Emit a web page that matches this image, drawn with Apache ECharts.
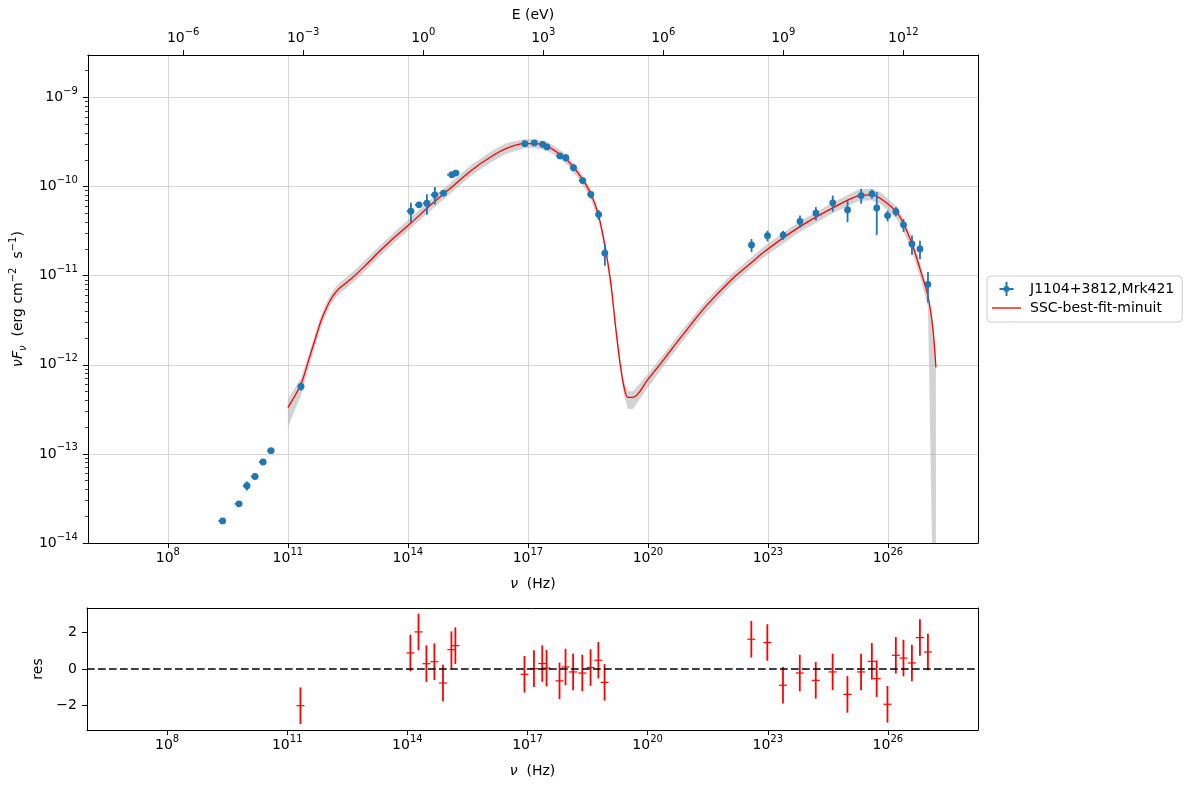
<!DOCTYPE html>
<html>
<head>
<meta charset="utf-8">
<script src="https://cdn.jsdelivr.net/npm/echarts@6/dist/echarts.min.js"></script>
<style>
  html, body { margin: 0; padding: 0; background: #fff; }
  #chart { width: 1190px; height: 790px; }
</style>
</head>
<body>
<div id="chart"></div>
<script>
// observed SED of J1104+3812 (Mrk421)
const nu = [2.34e9, 6.0e9, 9.5e9, 1.51e10, 2.4e10, 3.8e10, 2.14e11,
  1.19e14, 1.9e14, 2.99e14, 4.73e14, 7.76e14, 1.26e15, 1.58e15,
  8.41e16, 1.45e17, 2.34e17, 2.99e17, 6.31e17, 8.91e17, 1.38e18, 2.34e18, 3.76e18, 5.89e18, 8.41e18,
  3.89e22, 9.77e22, 2.40e23, 6.31e23, 1.58e24, 4.17e24, 9.77e24, 2.14e25, 3.98e25, 5.25e25,
  9.77e25, 1.58e26, 2.45e26, 3.98e26, 6.31e26, 1.0e27]
const nuErr = [0.5e9, 1.3e9, 2.0e9, 3.2e9, 5.0e9, 8.0e9, 4.0e10,
  2.5e13, 4.0e13, 6.0e13, 1.0e14, 1.6e14, 3.0e14, 3.5e14,
  1.5e16, 2.5e16, 4.0e16, 5.0e16, 1.2e17, 1.6e17, 2.5e17, 4.5e17, 7.0e17, 1.0e18, 1.5e18,
  6e21, 1.5e22, 3.6e22, 9.5e22, 2.4e23, 6.3e23, 1.5e24, 3.2e24, 6e24, 8e24,
  1.5e25, 2.4e25, 3.7e25, 6e25, 9.5e25, 1.5e26]
const nuFnu = [1.77e-14, 2.75e-14, 4.39e-14, 5.58e-14, 8.11e-14, 1.087e-13, 5.71e-13,
  5.30e-11, 6.24e-11, 6.52e-11, 8.09e-11, 8.45e-11, 1.36e-10, 1.42e-10,
  3.03e-10, 3.09e-10, 2.98e-10, 2.79e-10, 2.21e-10, 2.11e-10, 1.63e-10, 1.17e-10, 8.15e-11, 4.85e-11, 1.79e-11,
  2.21e-11, 2.81e-11, 2.86e-11, 4.08e-11, 5.03e-11, 6.58e-11, 5.48e-11, 7.94e-11, 8.3e-11, 5.77e-11,
  4.73e-11, 5.25e-11, 3.72e-11, 2.27e-11, 2.0e-11, 8.0e-12]
const nuFnuErr = [0.1e-14, 0.15e-14, 0.5e-14, 0.4e-14, 0.3e-14, 0.5e-14, 0.6e-13,
  1.3e-11, 0.5e-11, 1.7e-11, 1.8e-11, 0.6e-11, 0.1e-10, 0.1e-10,
  0.15e-10, 0.1e-10, 0.25e-10, 0.1e-10, 0.15e-10, 0.2e-10, 0.15e-10, 0.1e-10, 0.8e-11, 0.6e-11, 0.5e-11,
  0.37e-11, 0.39e-11, 0.33e-11, 0.65e-11, 0.85e-11, 1.35e-11, 1.5e-11, 1.5e-11, 1.0e-11, 2.9e-11,
  0.65e-11, 0.6e-11, 0.62e-11, 0.55e-11, 0.47e-11, 3.0e-12]
// residuals (data - model) / err, none below the model range
const resid = [null, null, null, null, null, null, -2.01,
  0.88, 2.03, 0.29, 0.40, -0.77, 1.06, 1.28,
  -0.29, 0.02, 0.30, 0.05, -0.65, 0.11, -0.16, -0.22, 0.08, 0.48, -0.73,
  1.63, 1.45, -0.89, -0.22, -0.62, -0.16, -1.39, -0.16, 0.42, -0.53,
  -1.93, 0.75, 0.60, 0.33, 1.72, 0.93]
const residErr = [null, null, null, null, null, null, 1,
  1, 1, 1, 1, 1, 1, 1,
  1, 1, 1, 1, 1, 1, 1, 1, 1, 1, 1,
  1, 1, 1, 1, 1, 1, 1, 1, 1, 1,
  1, 1, 1, 1, 1, 1]

// SSC best fit model
const modelNu = [1.0e11, 2.11e11, 3.35e11, 5.0e11, 6.68e11, 8.91e11, 1.19e12, 1.58e12, 2.11e12, 3.76e12, 8.91e12, 2.11e13, 5.01e13,
  1.19e14, 3.76e14, 1.19e15, 3.76e15, 1.19e16, 2.82e16, 7.94e16, 1.58e17, 3.16e17, 5.62e17,
  1.0e18, 2.11e18, 3.76e18, 5.96e18, 8.91e18, 1.19e19, 1.58e19, 2.0e19, 2.51e19, 3.16e19,
  4.22e19, 1.0e20, 2.51e20, 6.68e20, 2.82e21, 1.19e22, 3.76e22, 7.94e22, 5.62e23, 3.76e24, 1.78e25,
  3.76e25, 6.68e25, 1.78e26, 3.76e26, 6.68e26, 1.0e27, 1.33e27, 1.58e27]
const modelF = [3.31e-13, 6.01e-13, 1.15e-12, 2.04e-12, 3.08e-12, 4.21e-12, 5.44e-12, 6.53e-12, 7.45e-12, 9.16e-12, 1.32e-11, 1.94e-11, 2.79e-11,
  3.91e-11, 6.24e-11, 9.68e-11, 1.51e-10, 2.16e-10, 2.67e-10, 3.03e-10, 3.03e-10, 2.81e-10, 2.40e-10,
  1.95e-10, 1.29e-10, 8.30e-11, 4.57e-11, 1.89e-11, 8.04e-12, 2.51e-12, 1.06e-12, 5.71e-13, 4.30e-13,
  4.30e-13, 6.85e-13, 1.15e-12, 2.04e-12, 4.55e-12, 8.91e-12, 1.39e-11, 1.85e-11, 3.44e-11, 5.62e-11, 7.87e-11,
  8.09e-11, 7.29e-11, 4.94e-11, 2.45e-11, 1.10e-11, 5.89e-12, 2.51e-12, 9.35e-13]
// confidence band half widths in dex, above / below the model
const bandUp = [0.09, 0.07, 0.06, 0.06, 0.06, 0.06, 0.06, 0.06, 0.06, 0.06, 0.06, 0.06, 0.06,
  0.06, 0.06, 0.06, 0.06, 0.06, 0.06, 0.05, 0.05, 0.05, 0.05,
  0.05, 0.05, 0.05, 0.05, 0.05, 0.06, 0.06, 0.06, 0.06, 0.07,
  0.07, 0.06, 0.06, 0.06, 0.06, 0.06, 0.06, 0.06, 0.06, 0.06, 0.07,
  0.07, 0.07, 0.07, 0.07, 0.07, 0.07, 0.07, 0.07]
const bandDown = [0.22, 0.13, 0.09, 0.08, 0.07, 0.065, 0.06, 0.06, 0.06, 0.06, 0.06, 0.06, 0.06,
  0.06, 0.06, 0.06, 0.06, 0.06, 0.06, 0.05, 0.05, 0.05, 0.05,
  0.05, 0.06, 0.06, 0.06, 0.06, 0.07, 0.07, 0.07, 0.09, 0.13,
  0.13, 0.09, 0.07, 0.07, 0.07, 0.06, 0.06, 0.06, 0.06, 0.06, 0.06,
  0.06, 0.06, 0.07, 0.08, 0.09, 0.12, 3.0, 3.0]

// axes
const H_EV = 4.135667696e-15  // Planck constant, eV s
const NU_MIN = 1e6
const NU_MAX = 1.78e28
const F_MIN = 1e-14
const F_MAX = 3.0e-9
const RES_MIN = -3.34
const RES_MAX = 3.34
const nuTicks = [1e8, 1e11, 1e14, 1e17, 1e20, 1e23, 1e26]
const eTicks = [1e-6, 1e-3, 1, 1e3, 1e6, 1e9, 1e12]
const fTicks = [1e-14, 1e-13, 1e-12, 1e-11, 1e-10, 1e-9]
const resTicks = [-2, 0, 2]

const fMinorTicks = []
fTicks.forEach(d => {
  for (let k = 2; k <= 9; k++) {
    if (d * k < F_MAX) fMinorTicks.push(d * k)
  }
})

const BLUE = '#1f77b4'
const FONT = 'DejaVu Sans'

function powLabel(v) {
  const e = Math.round(Math.log10(v))
  return '10{sup|' + String(e).replace('-', '\u2212') + '}'
}

const labelRich = {
  sup: { fontFamily: FONT, fontSize: 10, lineHeight: 10, verticalAlign: 'top', color: '#000' }
}

const frameLine = { show: true, onZero: false, lineStyle: { color: '#000', width: 1 } }

function frameAxis(gridIndex, position, type, min, max) {
  return {
    gridIndex, position, type, min, max,
    axisLine: frameLine,
    axisTick: { show: false },
    axisLabel: { show: false },
    splitLine: { show: false }
  }
}

function nuAxis(gridIndex, grid) {
  return {
    gridIndex,
    type: 'log',
    position: 'bottom',
    min: NU_MIN,
    max: NU_MAX,
    name: '{i|\u03bd}  (Hz)',
    nameLocation: 'middle',
    nameGap: 34,
    nameTextStyle: {
      fontFamily: FONT, fontSize: 14, color: '#000',
      rich: { i: { fontFamily: FONT, fontSize: 14, fontStyle: 'italic', color: '#000' } }
    },
    axisLine: frameLine,
    axisTick: { show: true, length: 5, customValues: nuTicks, lineStyle: { color: '#000' } },
    axisLabel: {
      customValues: nuTicks,
      formatter: powLabel,
      margin: 4,
      fontFamily: FONT, fontSize: 14, lineHeight: 22, color: '#000',
      rich: labelRich
    },
    splitLine: { show: grid, lineStyle: { color: '#d6d6d6', width: 1 } }
  }
}

function renderBand(params, api) {
  if (params.dataIndex !== 0) return null
  const upper = []
  const lower = []
  modelNu.forEach((v, i) => {
    upper.push(api.coord([v, modelF[i] * Math.pow(10, bandUp[i])]))
    lower.push(api.coord([v, modelF[i] * Math.pow(10, -bandDown[i])]))
  })
  return {
    type: 'polygon',
    shape: { points: upper.concat(lower.reverse()) },
    style: { fill: 'rgba(175,175,175,0.55)' }
  }
}

function renderPoint(params, api) {
  const x = api.value(0)
  const y = api.value(1)
  const dy = api.value(2)
  const dx = api.value(3)
  const c = api.coord([x, y])
  const top = api.coord([x, y + dy])
  const bot = api.coord([x, y - dy > 0 ? y - dy : F_MIN / 100])
  const left = api.coord([x - dx, y])
  const right = api.coord([x + dx, y])
  const ls = { stroke: BLUE, lineWidth: 1.8 }
  return {
    type: 'group',
    children: [
      { type: 'line', shape: { x1: c[0], y1: top[1], x2: c[0], y2: bot[1] }, style: ls },
      { type: 'line', shape: { x1: left[0], y1: c[1], x2: right[0], y2: c[1] }, style: ls },
      { type: 'circle', shape: { cx: c[0], cy: c[1], r: 3.4 }, style: { fill: BLUE } }
    ]
  }
}

function renderResid(params, api) {
  const x = api.value(0)
  const r = api.value(1)
  const e = api.value(2)
  const c = api.coord([x, r])
  const top = api.coord([x, r + e])
  const bot = api.coord([x, r - e])
  return {
    type: 'group',
    children: [
      { type: 'line', shape: { x1: c[0], y1: top[1], x2: c[0], y2: bot[1] }, style: { stroke: '#ff0000', lineWidth: 1.8 } },
      { type: 'line', shape: { x1: c[0] - 4, y1: c[1], x2: c[0] + 4, y2: c[1] }, style: { stroke: '#ff0000', lineWidth: 1.2 } }
    ]
  }
}

const pointData = nu.map((v, i) => [v, nuFnu[i], nuFnuErr[i], nuErr[i]])
const residData = []
nu.forEach((v, i) => {
  if (resid[i] !== null) residData.push([v, resid[i], residErr[i]])
})
const bandData = modelNu.map((v, i) => [v, modelF[i]])
const modelData = modelNu.map((v, i) => [v, modelF[i]])

const option = {
  animation: false,
  backgroundColor: '#fff',
  textStyle: { fontFamily: FONT },
  grid: [
    { left: 87, top: 55, width: 891, height: 488 },
    { left: 87, top: 608, width: 891, height: 122 }
  ],
  legend: {
    left: 987,
    top: 276,
    orient: 'vertical',
    padding: [6, 8, 7, 5],
    itemWidth: 29,
    itemHeight: 14,
    itemGap: 5,
    borderColor: '#cccccc',
    borderWidth: 1,
    borderRadius: 4,
    textStyle: { fontFamily: FONT, fontSize: 14, color: '#000', padding: [0, 0, 0, 4] },
    data: [
      { name: 'J1104+3812,Mrk421', icon: 'path://M6,0 H8 V6 H14 V8 H8 V14 H6 V8 H0 V6 H6 Z M4,7 A3,3 0 1 1 10,7 A3,3 0 1 1 4,7 Z' },
      { name: 'SSC-best-fit-minuit', icon: 'path://M0,0 H30 V1.4 H0 Z' }
    ]
  },
  xAxis: [
    nuAxis(0, true),
    {
      gridIndex: 0,
      type: 'log',
      position: 'top',
      min: NU_MIN * H_EV,
      max: NU_MAX * H_EV,
      name: 'E (eV)',
      nameLocation: 'middle',
      nameGap: 32,
      nameTextStyle: { fontFamily: FONT, fontSize: 14, color: '#000' },
      axisLine: frameLine,
      axisTick: { show: true, length: 5, customValues: eTicks, lineStyle: { color: '#000' } },
      axisLabel: {
        customValues: eTicks,
        formatter: powLabel,
        margin: 6,
        fontFamily: FONT, fontSize: 14, lineHeight: 22, color: '#000',
        rich: labelRich
      },
      splitLine: { show: false }
    },
    nuAxis(1, false),
    frameAxis(1, 'top', 'log', NU_MIN, NU_MAX)
  ],
  yAxis: [
    {
      gridIndex: 0,
      type: 'log',
      position: 'left',
      min: F_MIN,
      max: F_MAX,
      name: '{i|\u03bdF}{sub|\u03bd}  (erg cm{sup|\u22122}  s{sup|\u22121})',
      nameLocation: 'middle',
      nameGap: 58,
      nameTextStyle: {
        fontFamily: FONT, fontSize: 14, lineHeight: 20, color: '#000',
        rich: {
          i: { fontFamily: FONT, fontSize: 14, fontStyle: 'italic', color: '#000' },
          sub: { fontFamily: FONT, fontSize: 10, lineHeight: 10, fontStyle: 'italic', verticalAlign: 'bottom', color: '#000' },
          sup: { fontFamily: FONT, fontSize: 10, lineHeight: 10, verticalAlign: 'top', color: '#000' }
        }
      },
      axisLine: frameLine,
      axisTick: { show: true, length: 5, customValues: fTicks, lineStyle: { color: '#000' } },
      axisLabel: {
        customValues: fTicks,
        formatter: powLabel,
        margin: 10,
        fontFamily: FONT, fontSize: 14, lineHeight: 22, color: '#000',
        rich: labelRich
      },
      splitLine: { show: true, lineStyle: { color: '#d6d6d6', width: 1 } }
    },
    {
      gridIndex: 0,
      type: 'log',
      position: 'left',
      min: F_MIN,
      max: F_MAX,
      axisLine: { show: false, onZero: false },
      axisTick: { show: true, length: 2.8, customValues: fMinorTicks, lineStyle: { color: '#000', width: 0.8 } },
      axisLabel: { show: false },
      splitLine: { show: false }
    },
    frameAxis(0, 'right', 'log', F_MIN, F_MAX),
    {
      gridIndex: 1,
      type: 'value',
      position: 'left',
      min: RES_MIN,
      max: RES_MAX,
      name: 'res',
      nameLocation: 'middle',
      nameGap: 36,
      nameTextStyle: { fontFamily: FONT, fontSize: 14, color: '#000' },
      axisLine: frameLine,
      axisTick: { show: true, length: 5, customValues: resTicks, lineStyle: { color: '#000' } },
      axisLabel: {
        customValues: resTicks,
        formatter: v => String(v).replace('-', '\u2212'),
        margin: 10,
        fontFamily: FONT, fontSize: 14, color: '#000'
      },
      splitLine: { show: false }
    },
    frameAxis(1, 'right', 'value', RES_MIN, RES_MAX)
  ],
  series: [
    {
      name: 'band',
      type: 'custom',
      xAxisIndex: 0,
      yAxisIndex: 0,
      clip: true,
      silent: true,
      z: 1,
      renderItem: renderBand,
      encode: { x: 0, y: 1 },
      data: bandData
    },
    {
      name: 'SSC-best-fit-minuit',
      type: 'line',
      xAxisIndex: 0,
      yAxisIndex: 0,
      symbol: 'none',
      smooth: 0.3,
      z: 2,
      color: '#ff0000',
      lineStyle: { color: '#ff0000', width: 1.3 },
      data: modelData
    },
    {
      name: 'J1104+3812,Mrk421',
      type: 'custom',
      xAxisIndex: 0,
      yAxisIndex: 0,
      z: 3,
      itemStyle: { color: BLUE },
      renderItem: renderPoint,
      encode: { x: 0, y: 1 },
      data: pointData
    },
    {
      name: 'residuals',
      type: 'custom',
      xAxisIndex: 2,
      yAxisIndex: 3,
      z: 3,
      itemStyle: { color: '#ff0000' },
      renderItem: renderResid,
      encode: { x: 0, y: 1 },
      data: residData,
      markLine: {
        silent: true,
        symbol: ['none', 'none'],
        label: { show: false },
        lineStyle: { color: '#000', width: 1.6, type: [7.7, 3.3] },
        data: [{ yAxis: 0 }]
      }
    }
  ]
}

const myChart = echarts.init(document.getElementById('chart'), null, { renderer: 'canvas' })
myChart.setOption(option)
</script>
</body>
</html>
